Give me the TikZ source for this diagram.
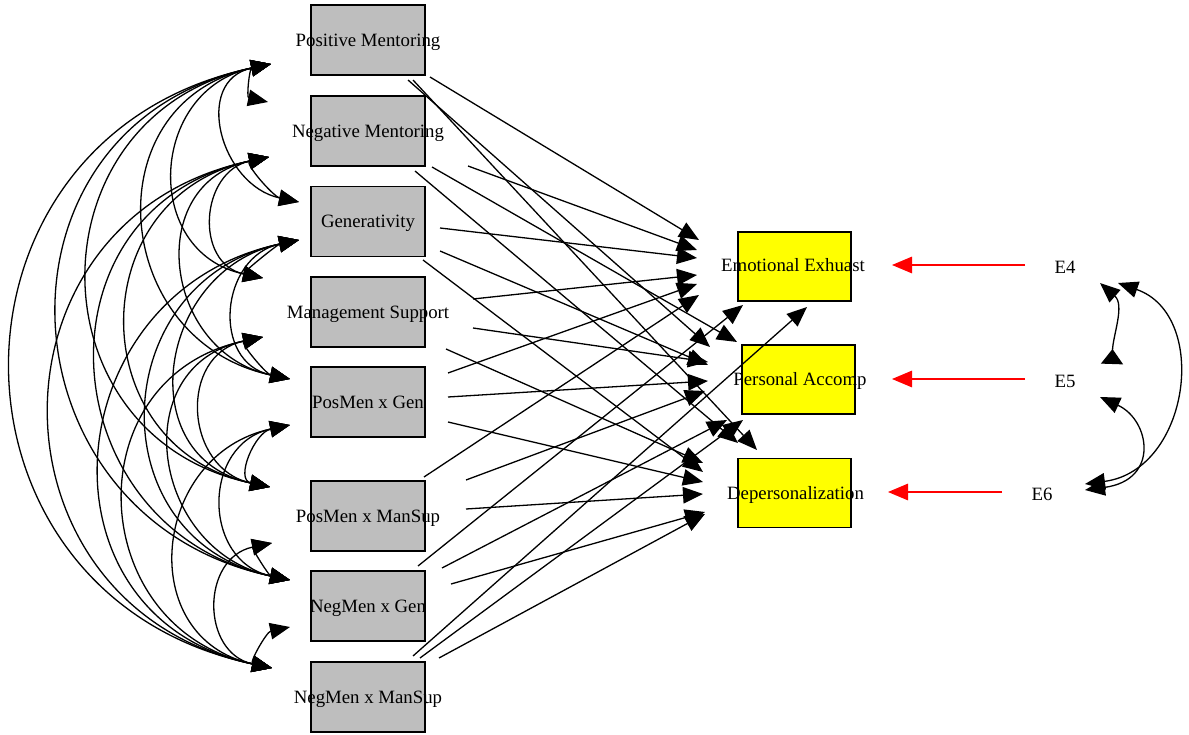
\documentclass[tikz,border=0pt]{standalone}
\usepackage{fontspec}
\setmainfont{Liberation Serif}
\usetikzlibrary{arrows.meta,calc}
\definecolor{boxgray}{RGB}{190,190,190}
\definecolor{boxyellow}{RGB}{255,255,0}
\definecolor{errred}{RGB}{255,0,0}
\begin{document}
\begin{tikzpicture}[x=1pt,y=-1pt,>={Triangle[length=20pt,width=16.5pt]},
  gbox/.style={draw=black,line width=1.3pt,fill=boxgray,minimum width=114pt,minimum height=70pt,inner sep=0pt},
  ybox/.style={draw=black,line width=1.3pt,fill=boxyellow,minimum width=113pt,minimum height=69pt,inner sep=0pt},
  lab/.style={font=\fontsize{18.8}{22}\selectfont,inner sep=0pt,anchor=base},
  reg/.style={line width=1.3pt,->},
  cov/.style={line width=1.3pt,<->},
  err/.style={line width=1.3pt,color=errred,->}]
\useasboundingbox (0,0) rectangle (1189,735);
% exogenous boxes
\node[gbox] (pm)  at (368,40) {};
\node[gbox] (nm)  at (368,131) {};
\node[gbox] (gen) at (368,221.5) {};
\node[gbox] (ms)  at (368,312) {};
\node[gbox] (pg)  at (368,402) {};
\node[gbox] (pms) at (368,516) {};
\node[gbox] (ng)  at (368,606) {};
\node[gbox] (nms) at (368,697) {};
\node[lab] (pm-t)  at ($(pm)+(0,6.3)$)  {Positive Mentoring};
\node[lab] (nm-t)  at ($(nm)+(0,6.3)$)  {Negative Mentoring};
\node[lab] (gen-t) at ($(gen)+(0,6.3)$) {Generativity};
\node[lab] (ms-t)  at ($(ms)+(0,6.3)$)  {Management Support};
\node[lab] (pg-t)  at ($(pg)+(0,6.3)$)  {PosMen x Gen};
\node[lab] (pms-t) at ($(pms)+(0,6.3)$) {PosMen x ManSup};
\node[lab] (ng-t)  at ($(ng)+(0,6.3)$)  {NegMen x Gen};
\node[lab] (nms-t) at ($(nms)+(0,6.3)$) {NegMen x ManSup};
% endogenous boxes
\node[ybox] (ee) at (794.5,266.5) {};
\node[ybox] (pa) at (798.5,379.5) {};
\node[ybox] (dp) at (794.5,493) {};
\node[lab] (ee-t) at (793,271.5) {Emotional Exhuast};
\node[lab] (pa-t) at (800,385.5) {Personal Accomp};
\node[lab] (dp-t) at (795.5,499.5) {Depersonalization};
% residuals
\node[lab] (e4) at (1065,273.5) {E4};
\node[lab] (e5) at (1065,387.5) {E5};
\node[lab] (e6) at (1042,500.5) {E6};
% ports of regression edges
\foreach \n/\x/\y in {
  pm-ee/430/77, pm-pa/408/80, pm-dp/413/80,
  nm-ee/468/166, nm-pa/432/167, nm-dp/415/171,
  gen-ee/440/228, gen-pa/440/251, gen-dp/423/260,
  ms-ee/473/299, ms-pa/473/328, ms-dp/446/349,
  pg-ee/448/373, pg-pa/448/397, pg-dp/448/422,
  pms-ee/424/477, pms-pa/466/480, pms-dp/466/509,
  ng-ee/418/566, ng-pa/442/568, ng-dp/451/584,
  nms-ee/413/656, nms-pa/420/658, nms-dp/439/658,
  ee-pm/699/240, pa-pm/710/347, dp-pm/757/450,
  ee-nm/697/250, pa-nm/737/342, dp-nm/738/443,
  ee-gen/697/258, pa-gen/708/365, dp-gen/703/472,
  ee-ms/697/275, pa-ms/708/362, dp-ms/703/463,
  ee-pg/697/284, pa-pg/708/381, dp-pg/703/482,
  ee-pms/699/295, pa-pms/705/391, dp-pms/703/494,
  ee-ng/743/305, pa-ng/727/420, dp-ng/705/512,
  ee-nms/807/307, pa-nms/743/420, dp-nms/705/514}
  \coordinate (\n) at (\x,\y);
% covariance ports
\foreach \n/\x/\y in {L1/271/64, U2/268/102, L2/269/157, U3/299/202, L3/299/240,
  U4/263/278, L4/263/337, U5/290/379, L5/290/425, U6/270/487, L6/272/543,
  U7/290/580, L7/290/627, U8/272/668}
  \coordinate (\n) at (\x,\y);
% residual ports
\coordinate (e4-o) at (1025,265);
\coordinate (e5-o) at (1025,379);
\coordinate (e6-o) at (1002,492);
\coordinate (ee-r) at (892,265);
\coordinate (pa-r) at (892,379);
\coordinate (dp-r) at (888,492);
\coordinate (e4-a) at (1100,283);
\coordinate (e4-b) at (1118,283);
\coordinate (e5-a) at (1112,364);
\coordinate (e5-b) at (1100,397);
\coordinate (e6-a) at (1085,484);
\coordinate (e6-b) at (1085,490);
% regression arrows
\foreach \a/\b in {pm-ee/ee-pm, pm-pa/pa-pm, pm-dp/dp-pm,
  nm-ee/ee-nm, nm-pa/pa-nm, nm-dp/dp-nm,
  gen-ee/ee-gen, gen-pa/pa-gen, gen-dp/dp-gen,
  ms-ee/ee-ms, ms-pa/pa-ms, ms-dp/dp-ms,
  pg-ee/ee-pg, pg-pa/pa-pg, pg-dp/dp-pg,
  pms-ee/ee-pms, pms-pa/pa-pms, pms-dp/dp-pms,
  ng-ee/ee-ng, ng-pa/pa-ng, ng-dp/dp-ng,
  nms-ee/ee-nms, nms-pa/pa-nms, nms-dp/dp-nms}
  \draw[reg] (\a) -- (\b);
% covariances among exogenous variables
\foreach \i/\ya in {1/64,2/157,3/240,4/337,5/425,6/543,7/627}{
  \foreach \j/\yb in {2/102,3/202,4/278,5/379,6/487,7/580,8/668}{
    \ifnum\j>\i
      \pgfmathsetmacro\covc{0.57*(\yb-\ya)}
      \pgfmathsetmacro\covs{0.12*(\yb-\ya)}
      \draw[cov] (L\i) .. controls ($(L\i)+(-\covc,\covs)$) and ($(U\j)+(-\covc,-\covs)$) .. (U\j);
    \fi
  }
}
% residual arrows
\draw[err] (e4-o) -- (ee-r);
\draw[err] (e5-o) -- (pa-r);
\draw[err] (e6-o) -- (dp-r);
% residual covariances
\draw[line width=1.3pt,{Triangle[length=20pt,width=16.5pt]}-{Triangle[length=15pt,width=22pt,reversed]}]
  (e4-a) .. controls (1125,305) and (1113,335) .. (e5-a);
\draw[cov] (e4-b) .. controls (1210,315) and (1190,470) .. (e6-a);
\draw[cov] (e5-b) .. controls (1150,420) and (1160,480) .. (e6-b);
\end{tikzpicture}
\end{document}
